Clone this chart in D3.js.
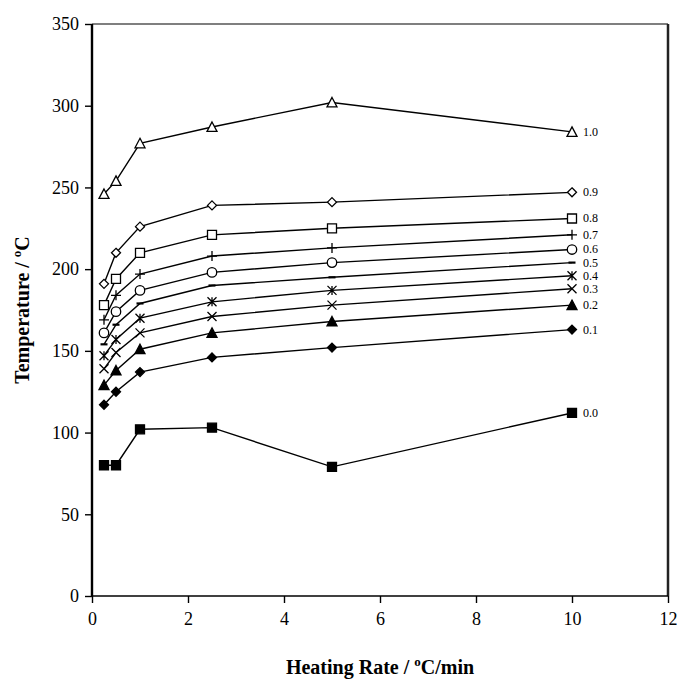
<!DOCTYPE html>
<html>
<head>
<meta charset="utf-8">
<script src="https://cdn.jsdelivr.net/npm/d3@7"></script>
<style>
  body { margin: 0; background: #fff; }
  svg { display: block; }
  svg text { font-family: "Liberation Serif", "Times New Roman", Times, serif !important; }
</style>
</head>
<body>
<div id="chart"></div>
<script>
const width = 678;
const height = 680;
const margin = {top: 24, right: 10, bottom: 84, left: 92};

// heating rates (x) and series labels (conversion)
const rates = [0.25, 0.5, 1, 2.5, 5, 10];
const levels = ["0.0", "0.1", "0.2", "0.3", "0.4", "0.5", "0.6", "0.7", "0.8", "0.9", "1.0"];
const markers = ["square", "diamondFill", "triangleFill", "x", "asterisk", "dash", "circle", "plus", "squareOpen", "diamondOpen", "triangleOpen"];

const temps_00 = [80, 80, 102, 103, 79, 112];
const temps_01 = [117, 125, 137, 146, 152, 163];
const temps_02 = [129, 138, 151, 161, 168, 178];
const temps_03 = [139, 149, 161, 171, 178, 188];
const temps_04 = [147, 157, 170, 180, 187, 196];
const temps_05 = [154, 166, 179, 190, 195, 204];
const temps_06 = [161, 174, 187, 198, 204, 212];
const temps_07 = [169, 184, 197, 208, 213, 221];
const temps_08 = [178, 194, 210, 221, 225, 231];
const temps_09 = [191, 210, 226, 239, 241, 247];
const temps_10 = [246, 254, 277, 287, 302, 284];
const series = [temps_00, temps_01, temps_02, temps_03, temps_04, temps_05, temps_06, temps_07, temps_08, temps_09, temps_10];

const xTicks = [0, 2, 4, 6, 8, 10, 12];
const yTicks = [0, 50, 100, 150, 200, 250, 300, 350];

const x = d3.scaleLinear().domain([0, 12]).range([margin.left, width - margin.right]);
const y = d3.scaleLinear().domain([0, 350]).range([height - margin.bottom, margin.top]);

const svg = d3.create("svg")
    .attr("width", width)
    .attr("height", height)
    .attr("viewBox", [0, 0, width, height]);

// frame
svg.append("line")
    .attr("x1", x(0)).attr("x2", x(12))
    .attr("y1", y(350)).attr("y2", y(350))
    .attr("stroke", "#000").attr("stroke-width", 1.2);
svg.append("line")
    .attr("x1", x(12)).attr("x2", x(12))
    .attr("y1", y(350)).attr("y2", y(0))
    .attr("stroke", "#222").attr("stroke-width", 2.5);

// axes
const xAxis = svg.append("g")
    .attr("transform", `translate(0,${y(0)})`)
    .call(d3.axisBottom(x).tickValues(xTicks).tickSize(7).tickPadding(9).tickFormat(d3.format("d")));
const yAxis = svg.append("g")
    .attr("transform", `translate(${x(0)},0)`)
    .call(d3.axisLeft(y).tickValues(yTicks).tickSize(7).tickPadding(6).tickFormat(d3.format("d")));

xAxis.select(".domain").attr("stroke-width", 1.6);
yAxis.select(".domain").attr("stroke-width", 2.4);
[xAxis, yAxis].forEach(g => {
    g.attr("font-family", null);
    g.selectAll(".tick line").attr("stroke-width", 1.4);
    g.selectAll(".tick text")
        .attr("font-size", 18)
        .attr("fill", "#000");
});
xAxis.selectAll(".domain").attr("d", `M${x(0)},0H${x(12)}`);
yAxis.selectAll(".domain").attr("d", `M0,${y(0)}V${y(350)}`);

// marker shapes
function markerPath(type) {
    const s = 4.5;
    switch (type) {
        case "square":
        case "squareOpen":
            return `M${-s},${-s}H${s}V${s}H${-s}Z`;
        case "diamondFill":
        case "diamondOpen":
            return `M0,${-s}L${s},0L0,${s}L${-s},0Z`;
        case "triangleFill":
        case "triangleOpen":
            return `M0,${-s - 0.5}L${s + 0.5},${s}L${-s - 0.5},${s}Z`;
        case "circle":
            return d3.symbol(d3.symbolCircle, 70)();
        case "plus":
            return `M${-s - 0.5},0H${s + 0.5}M0,${-s - 0.5}V${s + 0.5}`;
        case "x":
            return `M${-s},${-s}L${s},${s}M${-s},${s}L${s},${-s}`;
        case "asterisk":
            return `M${-s},${-s}L${s},${s}M${-s},${s}L${s},${-s}M0,${-s}V${s}`;
        case "dash":
            return `M-3.5,0H3.5`;
    }
}
const filled = new Set(["square", "diamondFill", "triangleFill"]);
const stroked = new Set(["plus", "x", "asterisk", "dash"]);

const line = d3.line()
    .x((d, i) => x(rates[i]))
    .y(d => y(d));

const plot = svg.append("g");

series.forEach((vals, si) => {
    plot.append("path")
        .datum(vals)
        .attr("fill", "none")
        .attr("stroke", "#000")
        .attr("stroke-width", 1.4)
        .attr("d", line);

    const m = markers[si];
    plot.append("g")
        .selectAll("path")
        .data(vals)
        .join("path")
        .attr("transform", (d, i) => `translate(${x(rates[i])},${y(d)})`)
        .attr("d", markerPath(m))
        .attr("fill", filled.has(m) ? "#000" : stroked.has(m) ? "none" : "#fff")
        .attr("stroke", "#000")
        .attr("stroke-width", m === "dash" ? 2.2 : 1.3);

    plot.append("text")
        .attr("x", x(rates[rates.length - 1]) + 11)
        .attr("y", y(vals[vals.length - 1]))
        .attr("dy", "0.33em")
        .attr("font-size", 12)
        .attr("fill", "#000")
        .text(levels[si]);
});

// axis titles
const xTitle = svg.append("text")
    .attr("x", (x(0) + x(12)) / 2)
    .attr("y", 674)
    .attr("text-anchor", "middle")
    .attr("font-size", 20)
    .attr("font-weight", "bold");
xTitle.append("tspan").text("Heating Rate / ");
xTitle.append("tspan").attr("font-size", 13).attr("dy", -8).text("o");
xTitle.append("tspan").attr("dy", 8).text("C/min");

const yTitle = svg.append("text")
    .attr("transform", `translate(29,${(y(0) + y(350)) / 2}) rotate(-90)`)
    .attr("text-anchor", "middle")
    .attr("font-size", 20)
    .attr("font-weight", "bold");
yTitle.append("tspan").text("Temperature / ");
yTitle.append("tspan").attr("font-size", 13).attr("dy", -8).text("o");
yTitle.append("tspan").attr("dy", 8).text("C");

document.getElementById("chart").append(svg.node());
</script>
</body>
</html>
